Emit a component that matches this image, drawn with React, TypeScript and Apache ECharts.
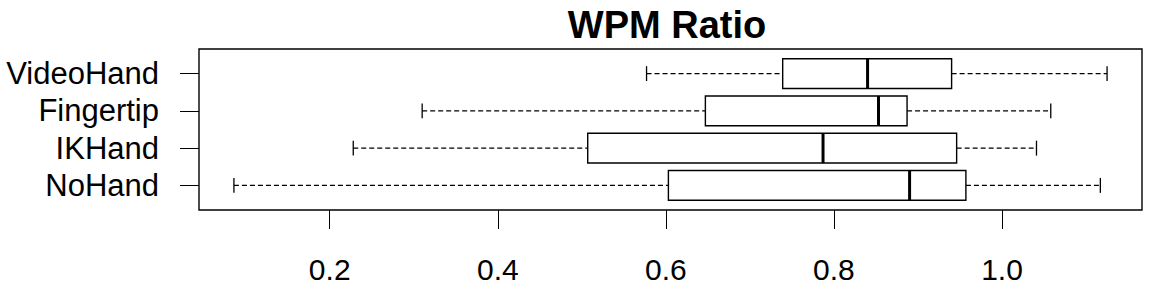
import React, { useEffect, useRef } from "react";
import * as echarts from "echarts";

const title = "WPM Ratio";
const categories = ["NoHand", "IKHand", "Fingertip", "VideoHand"];
const whiskerLow = [0.086, 0.228, 0.31, 0.577];
const q1 = [0.603, 0.507, 0.647, 0.739];
const median = [0.89, 0.787, 0.853, 0.84];
const q3 = [0.957, 0.946, 0.887, 0.94];
const whiskerHigh = [1.117, 1.041, 1.058, 1.125];
const xTicks = [0.2, 0.4, 0.6, 0.8, 1.0];

const FONT = "'Liberation Sans', Arial, sans-serif";

export default function App() {
  const ref = useRef<HTMLDivElement>(null);
  useEffect(() => {
    if (!ref.current) return;
    const chart = echarts.init(ref.current, null, { renderer: "svg" });
    const lo = Math.min(...whiskerLow);
    const hi = Math.max(...whiskerHigh);
    const pad = (hi - lo) * 0.04;
    const n = categories.length;
    const yPad = n * 0.04;
    const data = categories.map((_, i) => [
      i + 1,
      whiskerLow[i],
      q1[i],
      median[i],
      q3[i],
      whiskerHigh[i],
    ]);
    chart.setOption({
      animation: false,
      backgroundColor: "#fff",
      graphic: [
        {
          type: "text",
          x: 667,
          y: 25,
          style: {
            text: title,
            textAlign: "center",
            textVerticalAlign: "middle",
            font: `bold 38px ${FONT}`,
            fill: "#000",
          },
        },
      ],
      grid: {
        left: 199,
        right: 10,
        top: 49,
        bottom: 77,
        show: true,
        borderColor: "#000",
        borderWidth: 1.4,
        backgroundColor: "transparent",
      },
      xAxis: {
        type: "value",
        min: lo - pad,
        max: hi + pad,
        splitLine: { show: false },
        axisLine: { show: false },
        axisTick: {
          show: true,
          length: 19,
          customValues: xTicks,
          lineStyle: { color: "#000", width: 1 },
        },
        axisLabel: {
          customValues: xTicks,
          formatter: (v: number) => v.toFixed(1),
          fontSize: 30,
          fontFamily: FONT,
          color: "#000",
          margin: 44,
        },
      },
      yAxis: {
        type: "value",
        min: 0.5 - yPad,
        max: n + 0.5 + yPad,
        splitLine: { show: false },
        axisLine: { show: false },
        axisTick: {
          show: true,
          length: 19,
          customValues: categories.map((_, i) => i + 1),
          lineStyle: { color: "#000", width: 1 },
        },
        axisLabel: {
          customValues: categories.map((_, i) => i + 1),
          formatter: (v: number) => categories[Math.round(v) - 1] ?? "",
          fontSize: 31,
          fontFamily: FONT,
          color: "#000",
          margin: 40,
        },
      },
      series: [
        {
          type: "custom",
          data,
          encode: { x: [1, 2, 3, 4, 5], y: 0 },
          renderItem: (params: any, api: any) => {
            const y = api.value(0);
            const pLo = api.coord([api.value(1), y]);
            const pQ1 = api.coord([api.value(2), y]);
            const pMed = api.coord([api.value(3), y]);
            const pQ3 = api.coord([api.value(4), y]);
            const pHi = api.coord([api.value(5), y]);
            const h = api.size([0, 0.8])[1];
            const cap = h / 2;
            const cy = pLo[1];
            const solid = { stroke: "#000", lineWidth: 1.3, fill: "none" };
            const dashed = { stroke: "#000", lineWidth: 1.1, lineDash: [5, 3] };
            return {
              type: "group",
              children: [
                { type: "line", shape: { x1: pLo[0], y1: cy, x2: pQ1[0], y2: cy }, style: dashed },
                { type: "line", shape: { x1: pQ3[0], y1: cy, x2: pHi[0], y2: cy }, style: dashed },
                { type: "line", shape: { x1: pLo[0], y1: cy - cap / 2, x2: pLo[0], y2: cy + cap / 2 }, style: solid },
                { type: "line", shape: { x1: pHi[0], y1: cy - cap / 2, x2: pHi[0], y2: cy + cap / 2 }, style: solid },
                {
                  type: "rect",
                  shape: { x: pQ1[0], y: cy - h / 2, width: pQ3[0] - pQ1[0], height: h },
                  style: { stroke: "#000", lineWidth: 1.4, fill: "#fff" },
                },
                {
                  type: "line",
                  shape: { x1: pMed[0], y1: cy - h / 2, x2: pMed[0], y2: cy + h / 2 },
                  style: { stroke: "#000", lineWidth: 3 },
                },
              ],
            };
          },
        },
      ],
    });
    return () => chart.dispose();
  }, []);
  return (
    <div
      ref={ref}
      style={{ position: "fixed", left: 0, top: 0, width: 1152, height: 287 }}
    />
  );
}
